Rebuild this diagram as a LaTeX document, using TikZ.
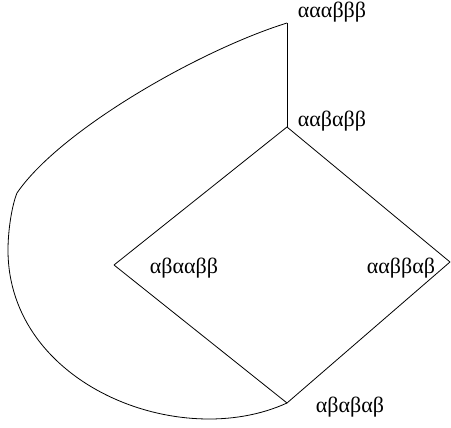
\documentclass[tikz,border=0pt]{standalone}
\usepackage{fontspec}
\setmainfont{Liberation Serif}
\begin{document}
\begin{tikzpicture}[x=1pt,y=-1pt,
  lbl/.style={inner sep=0pt,font=\fontsize{22}{24}\selectfont},
  edge/.style={draw=black,line width=0.8pt}]
\useasboundingbox (0,0) rectangle (451,428);
\coordinate (T) at (287,23);
\coordinate (A) at (287,127);
\coordinate (B) at (114,265);
\coordinate (C) at (450,262);
\coordinate (D) at (287,403);
\coordinate (K) at (17,193);
\coordinate (L) at (8,250);
\node[lbl] (tT) at (332,12) {αααβββ};
\node[lbl] (tA) at (332,121) {ααβαββ};
\node[lbl] (tB) at (184,268) {αβααββ};
\node[lbl] (tC) at (401,268) {ααββαβ};
\node[lbl] (tD) at (350,407) {αβαβαβ};
\draw[edge] (T) -- (A);
\draw[edge] (A) -- (B);
\draw[edge] (A) -- (C);
\draw[edge] (B) -- (D);
\draw[edge] (C) -- (D);
\draw[edge] (T) .. controls (200,50) and (60,130) .. (K)
  .. controls (12,205) and (8,230) .. (L)
  .. controls (8,385) and (180,452) .. (D);
\end{tikzpicture}
\end{document}
